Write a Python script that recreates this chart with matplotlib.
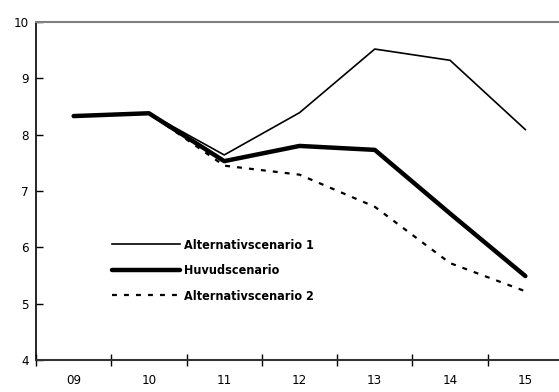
import matplotlib
matplotlib.use("Agg")
import matplotlib.pyplot as plt
from matplotlib.ticker import FixedLocator, NullFormatter
from matplotlib.font_manager import FontProperties

plt.rcParams['font.family'] = ['DejaVu Sans']
plt.rcParams['font.stretch'] = 'condensed'

years = ["09", "10", "11", "12", "13", "14", "15"]
alt1 = [8.33, 8.38, 7.64, 8.39, 9.52, 9.32, 8.09]
huvud = [8.33, 8.38, 7.53, 7.80, 7.73, 6.60, 5.49]
alt2 = [8.33, 8.38, 7.45, 7.29, 6.72, 5.72, 5.22]

fig = plt.figure(figsize=(5.59, 3.92), dpi=100)
ax = fig.add_axes([36 / 559, 32 / 392, (563 - 36) / 559, 338 / 392])

x = list(range(len(years)))
ax.plot(x, alt1, color='black', lw=1.2, label='Alternativscenario 1')
ax.plot(x, huvud, color='black', lw=3.2, solid_capstyle='round', label='Huvudscenario')
ax.plot(x, alt2, color='black', lw=1.6, linestyle=(0, (2.2, 3.2)), label='Alternativscenario 2')

ax.set_xlim(-0.5, len(years) - 0.5)
ax.set_ylim(4, 10)
ax.set_yticks([4, 5, 6, 7, 8, 9, 10])
ax.set_xticks(x)
ax.set_xticklabels(years)
ax.xaxis.set_minor_locator(FixedLocator([i - 0.5 for i in range(len(years) + 1)]))
ax.xaxis.set_minor_formatter(NullFormatter())
ax.tick_params(axis='x', which='major', length=0, pad=10, labelsize=9.5)
ax.tick_params(axis='x', which='minor', direction='inout', length=9, width=1, color='black')
ax.tick_params(axis='y', direction='in', length=5, width=1, labelsize=9.5, pad=5)

ax.spines['right'].set_visible(False)
ax.spines['top'].set_color('#808080')
ax.spines['top'].set_linewidth(1.5)
ax.spines['left'].set_linewidth(1.2)
ax.spines['bottom'].set_linewidth(1.5)
ax.spines['bottom'].set_color('#333333')

legend_font = FontProperties(family='DejaVu Sans', stretch='condensed', weight='bold', size=9)
leg = ax.legend(loc='upper left', bbox_to_anchor=(0.122, 0.392), frameon=False,
                handlelength=5.5, handletextpad=0.3, labelspacing=1.0,
                prop=legend_font)

fig.savefig('out.png', dpi=100)
